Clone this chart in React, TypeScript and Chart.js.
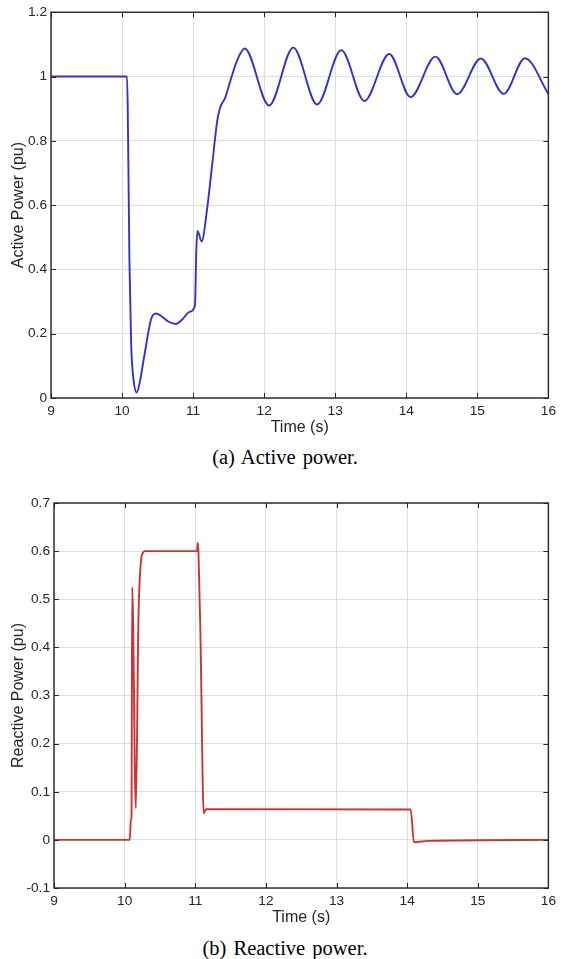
import React, { useEffect, useRef } from "react";
import { Chart, registerables } from "chart.js";

Chart.register(...registerables);

// ---- Data ----
const timeTicks = [9, 10, 11, 12, 13, 14, 15, 16];
const activeTicks = [0, 0.2, 0.4, 0.6, 0.8, 1, 1.2];
const reactiveTicks = [-0.1, 0, 0.1, 0.2, 0.3, 0.4, 0.5, 0.6, 0.7];

const activeTime = [
  9, 10.07, 10.08, 10.095, 10.104, 10.128, 10.16, 10.206, 10.25, 10.31, 10.41,
  10.48, 10.55, 10.65, 10.756, 10.85, 10.95, 11.026, 11.045, 11.062, 11.12,
  11.198, 11.268, 11.337, 11.375, 11.455, 11.525, 11.617, 11.725, 12.07, 12.41,
  12.745, 13.085, 13.41, 13.76, 14.06, 14.41, 14.715, 15.05, 15.37, 15.67, 16,
];
const activePower = [
  1, 1, 0.9, 0.6, 0.425, 0.169, 0.06, 0.017, 0.05, 0.127, 0.246,
  0.263, 0.255, 0.238, 0.23, 0.245, 0.268, 0.287, 0.46, 0.52, 0.487,
  0.59, 0.725, 0.858, 0.9, 0.936, 0.987, 1.049, 1.087, 0.91, 1.09,
  0.913, 1.082, 0.924, 1.07, 0.936, 1.062, 0.945, 1.056, 0.946, 1.057, 0.946,
];

const reactiveTime = [
  9, 10.072, 10.089, 10.097, 10.107, 10.159, 10.196, 10.229, 10.25, 10.29,
  11.025, 11.035, 11.045, 11.073, 11.12, 11.152, 14.05, 14.097, 14.3, 16,
];
const reactivePower = [
  0, 0, 0.042, 0.045, 0.525, 0.066, 0.464, 0.575, 0.594, 0.6,
  0.6, 0.617, 0.6, 0.43, 0.055, 0.064, 0.063, -0.005, -0.002, 0,
];

const FONT = "'Liberation Sans', Arial, Helvetica, sans-serif";
const INK = "#262626";

const framePlugin = {
  id: "frame",
  afterDatasetsDraw(chart: any) {
    const { ctx, chartArea } = chart;
    const { left, right, top, bottom } = chartArea;
    const xs = chart.scales.x;
    const ys = chart.scales.y;
    const tl = 5;
    ctx.save();
    ctx.strokeStyle = INK;
    ctx.lineWidth = 1;
    ctx.beginPath();
    xs.ticks.forEach((t: any) => {
      const px = Math.round(xs.getPixelForValue(t.value)) + 0.5;
      ctx.moveTo(px, bottom);
      ctx.lineTo(px, bottom - tl);
      ctx.moveTo(px, top);
      ctx.lineTo(px, top + tl);
    });
    ys.ticks.forEach((t: any) => {
      const py = Math.round(ys.getPixelForValue(t.value)) + 0.5;
      ctx.moveTo(left, py);
      ctx.lineTo(left + tl, py);
      ctx.moveTo(right, py);
      ctx.lineTo(right - tl, py);
    });
    ctx.stroke();
    ctx.lineWidth = 1.4;
    ctx.strokeRect(left, top, right - left, bottom - top);
    ctx.restore();
  },
};

const fmt = (v: any) => String(Math.round(Number(v) * 1000) / 1000);

function makeConfig(
  times: number[],
  values: number[],
  color: string,
  yTicks: number[],
  yTitle: string,
  yWidth: number,
  padTop: number
): any {
  return {
    type: "line",
    data: {
      datasets: [
        {
          data: times.map((t, i) => ({ x: t, y: values[i] })),
          borderColor: color,
          borderWidth: 1.9,
          pointRadius: 0,
          fill: false,
          cubicInterpolationMode: "monotone",
        },
      ],
    },
    options: {
      animation: false,
      responsive: false,
      maintainAspectRatio: false,
      layout: { padding: { top: padTop, right: 9, left: 0, bottom: 0 } },
      plugins: { legend: { display: false }, tooltip: { enabled: false } },
      elements: { point: { radius: 0 } },
      scales: {
        x: {
          type: "linear",
          min: timeTicks[0],
          max: timeTicks[timeTicks.length - 1],
          afterBuildTicks: (s: any) => {
            s.ticks = timeTicks.map((v) => ({ value: v }));
          },
          afterFit: (s: any) => {
            s.height = 42;
          },
          grid: { color: "#dedede", drawTicks: false, lineWidth: 1 },
          border: { display: false },
          ticks: {
            padding: 5,
            color: INK,
            font: { family: FONT, size: 13.7 },
            maxRotation: 0,
            autoSkip: false,
            callback: (v: any) => fmt(v),
          },
          title: {
            display: true,
            text: "Time (s)",
            color: INK,
            font: { family: FONT, size: 16 },
            padding: { top: 0, bottom: 2.7 },
          },
        },
        y: {
          type: "linear",
          min: yTicks[0],
          max: yTicks[yTicks.length - 1],
          afterBuildTicks: (s: any) => {
            s.ticks = yTicks.map((v) => ({ value: v }));
          },
          afterFit: (s: any) => {
            s.width = yWidth;
          },
          grid: { color: "#dedede", drawTicks: false, lineWidth: 1 },
          border: { display: false },
          ticks: {
            padding: 4,
            color: INK,
            font: { family: FONT, size: 13.7 },
            autoSkip: false,
            callback: (v: any) => fmt(v),
          },
          title: {
            display: true,
            text: yTitle,
            color: INK,
            font: { family: FONT, size: 16 },
            padding: { top: 8.9, bottom: 0 },
          },
        },
      },
    },
    plugins: [framePlugin],
  };
}

function PlotCanvas(props: { config: () => any; width: number; height: number; top: number }) {
  const ref = useRef<HTMLCanvasElement | null>(null);
  useEffect(() => {
    if (!ref.current) return;
    const chart = new Chart(ref.current, props.config());
    return () => chart.destroy();
  }, []);
  return (
    <canvas
      ref={ref}
      width={props.width}
      height={props.height}
      style={{
        position: "absolute",
        left: 0,
        top: props.top,
        width: props.width,
        height: props.height,
      }}
    />
  );
}

const captionStyle: React.CSSProperties = {
  position: "absolute",
  left: 0,
  width: 570,
  textAlign: "center",
  fontFamily: "'Liberation Serif', 'Times New Roman', serif",
  fontSize: 20.5,
  lineHeight: "20.5px",
  color: "#000",
  whiteSpace: "nowrap",
  wordSpacing: 2,
};

export default function App() {
  return (
    <div
      style={{
        position: "absolute",
        left: 0,
        top: 0,
        width: 561,
        height: 959,
        background: "#fff",
        overflow: "hidden",
      }}
    >
      <PlotCanvas
        width={561}
        height={440}
        top={0}
        config={() =>
          makeConfig(activeTime, activePower, "#3333cc", activeTicks, "Active Power (pu)", 51, 10)
        }
      />
      <div style={{ ...captionStyle, top: 447 }}>(a) Active power.</div>
      <PlotCanvas
        width={561}
        height={450}
        top={480}
        config={() =>
          makeConfig(reactiveTime, reactivePower, "#cc3333", reactiveTicks, "Reactive Power (pu)", 54, 23)
        }
      />
      <div style={{ ...captionStyle, top: 938 }}>(b) Reactive power.</div>
    </div>
  );
}
